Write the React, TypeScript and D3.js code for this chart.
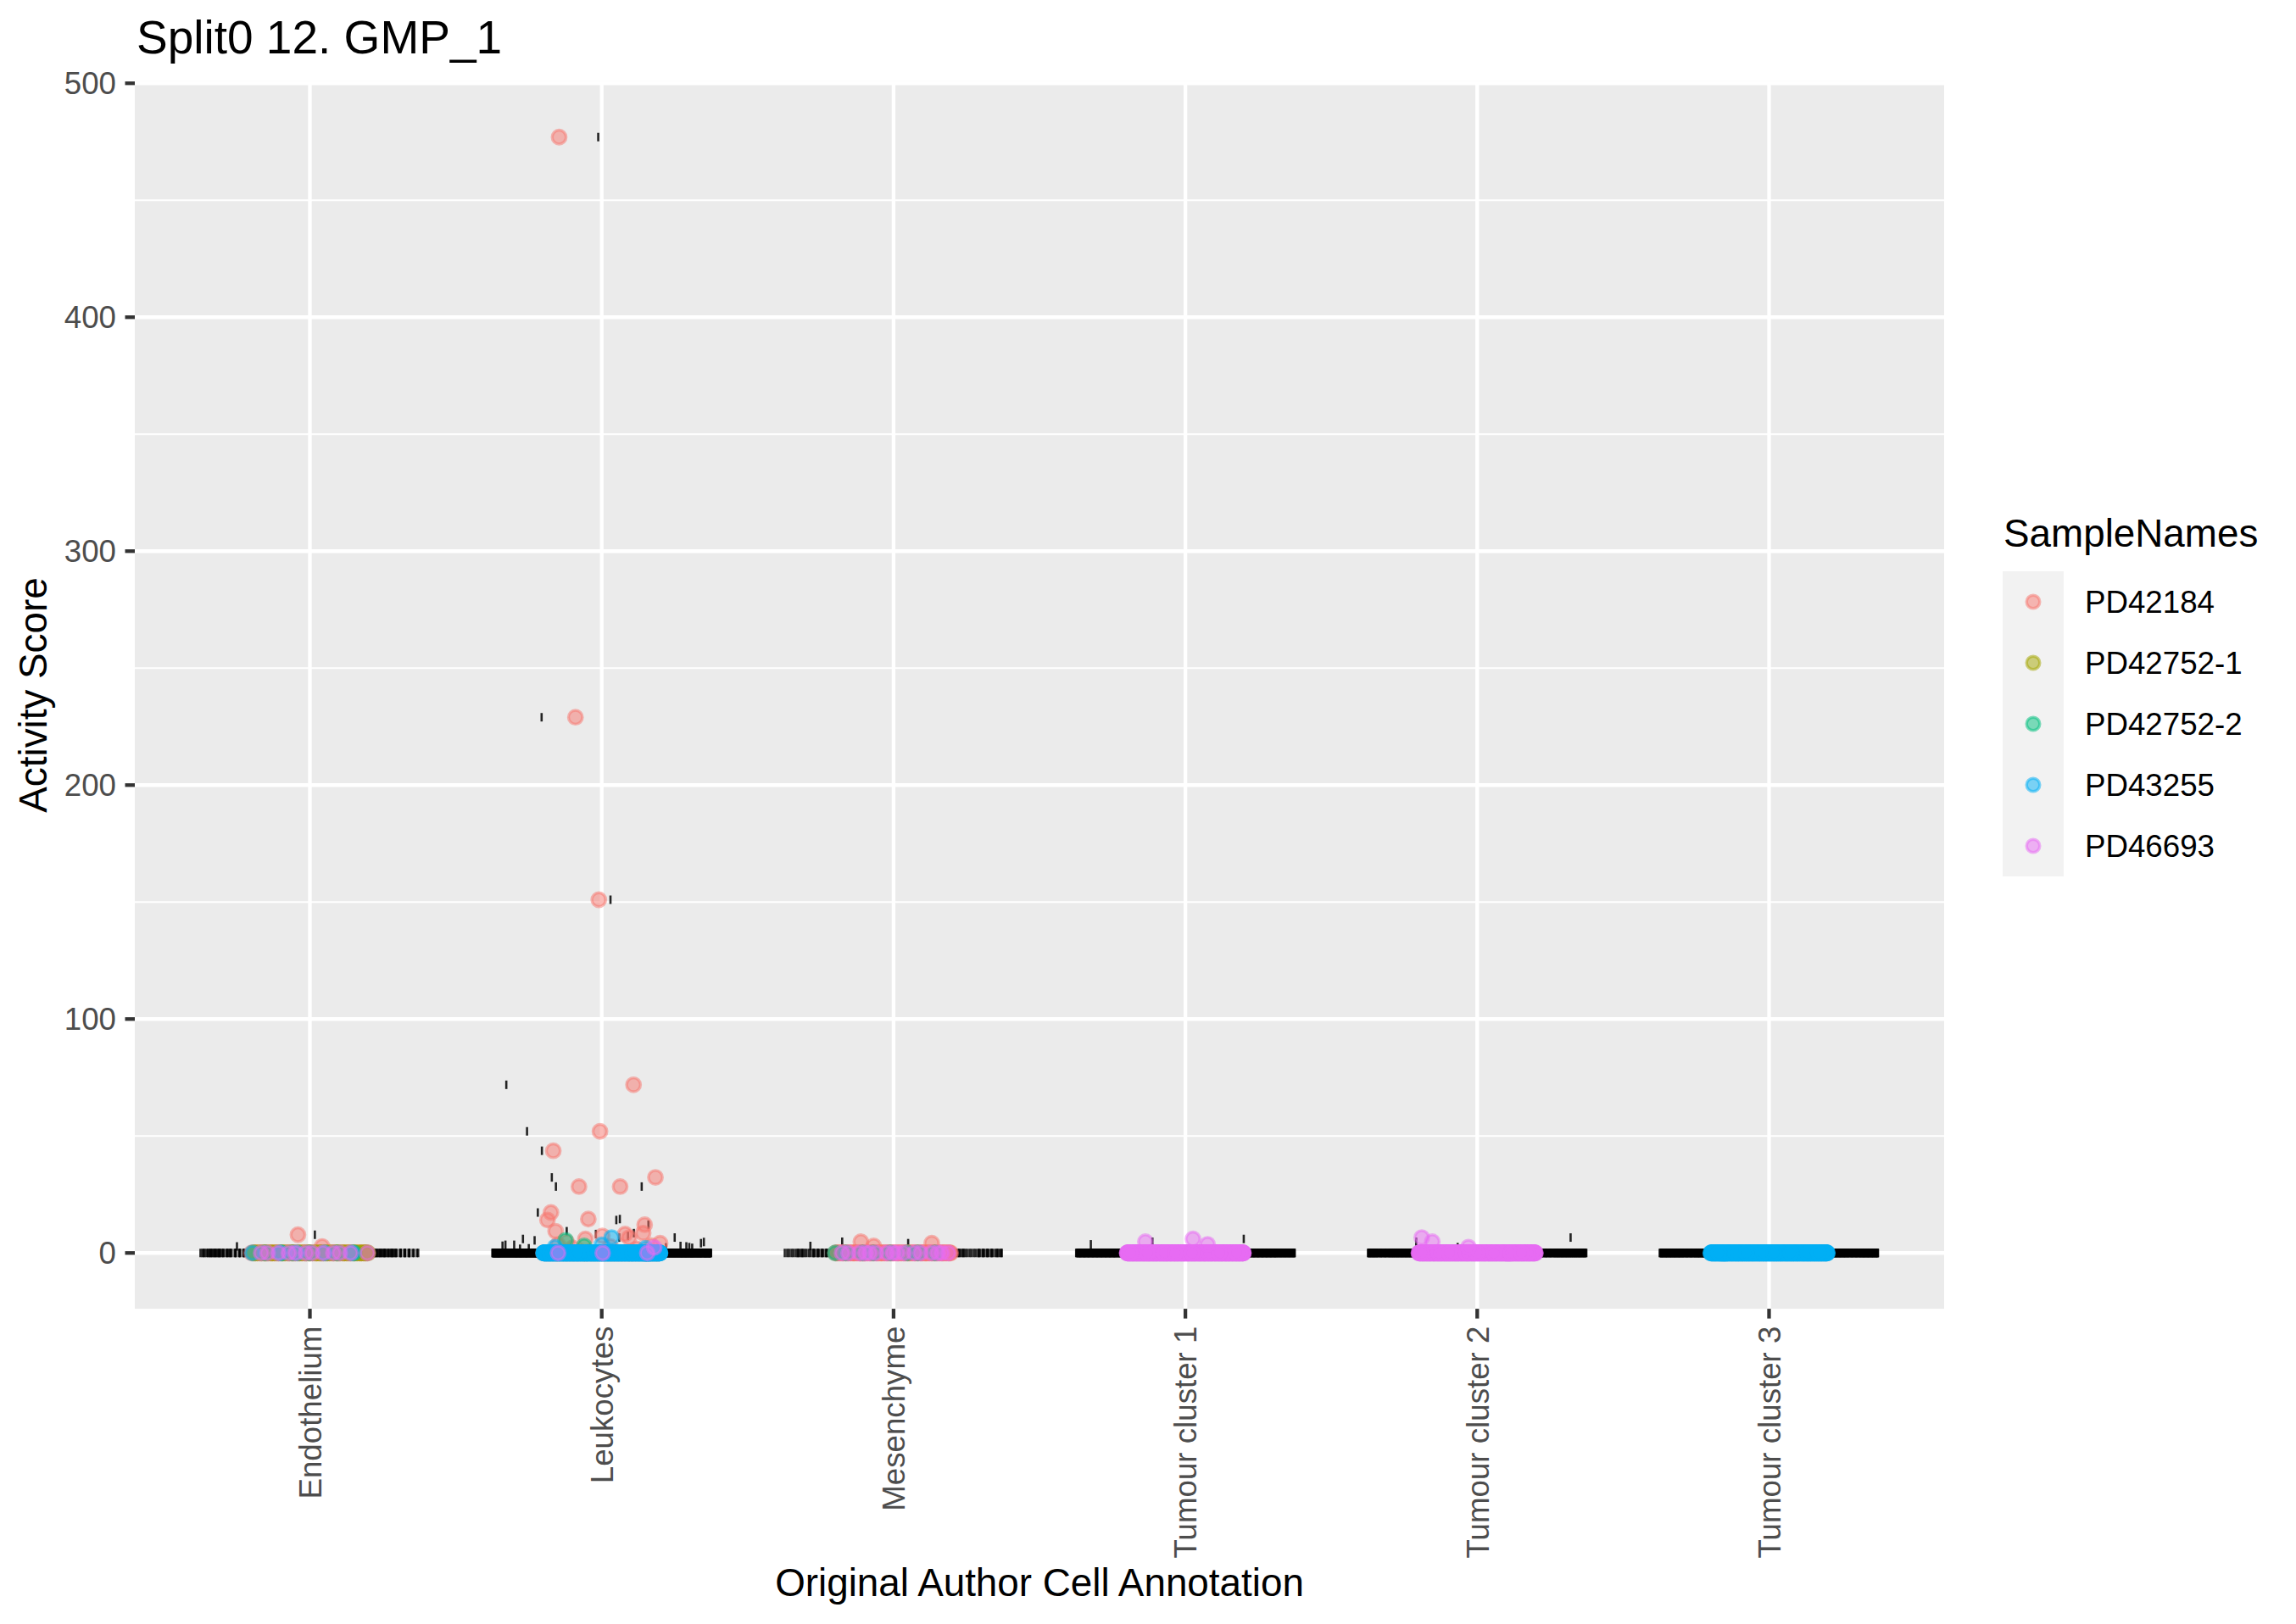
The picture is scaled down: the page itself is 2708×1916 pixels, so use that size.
/**
 * Jittered activity score plot (ggplot-like) drawn with D3.
 */
import React, { useEffect, useRef } from "react";
import * as d3 from "d3";

const categories = [
  "Endothelium",
  "Leukocytes",
  "Mesenchyme",
  "Tumour cluster 1",
  "Tumour cluster 2",
  "Tumour cluster 3",
];

const sampleNames = ["PD42184", "PD42752-1", "PD42752-2", "PD43255", "PD46693"];
const sampleColors = ["#F8766D", "#A3A500", "#00BF7D", "#00B0F6", "#E76BF3"];

const yTickValues = [0, 100, 200, 300, 400, 500];
const yMinorValues = [50, 150, 250, 350, 450];

/**
 * Cells sitting at ~0: rows follow categories, columns follow sampleNames
 */
const zeroCellCounts = [
  [80, 60, 6, 5, 12],
  [120, 5, 20, 700, 3],
  [110, 0, 8, 0, 16],
  [0, 0, 0, 0, 500],
  [0, 0, 0, 0, 450],
  [0, 0, 0, 550, 0],
];

/**
 * Raised cells: [sample index, score, point jitter, tick jitter]
 */
type Raised = [number, number, number, number];

const endotheliumRaised: Raised[] = [
  [0, 7.8, -0.041, 0.017],
  [0, 2.8, 0.042, -0.25],
];

const leukocytesRaised: Raised[] = [
  [0, 477.0, -0.146, -0.012],
  [0, 229.0, -0.09, -0.206],
  [0, 151.0, -0.01, 0.03],
  [0, 71.9, 0.109, -0.327],
  [0, 52.0, -0.006, -0.256],
  [0, 43.7, -0.166, -0.205],
  [0, 32.3, 0.184, -0.171],
  [0, 28.4, -0.078, -0.157],
  [0, 28.4, 0.063, 0.137],
  [0, 17.3, -0.174, -0.219],
  [0, 14.1, -0.186, 0.05],
  [0, 14.5, -0.046, 0.062],
  [0, 12.1, 0.147, 0.16],
  [0, 9.3, -0.158, -0.12],
  [0, 8.5, 0.142, 0.11],
  [0, 8.1, 0.08, -0.02],
  [0, 7.3, 0.002, 0.09],
  [0, 6.6, 0.094, 0.25],
  [0, 6.0, -0.056, -0.27],
  [0, 4.2, 0.2, 0.34],
  [0, 4.7, -0.12, 0.35],
  [0, 3.5, -0.15, -0.3],
  [0, 2.8, 0.03, 0.29],
  [0, 3.1, 0.17, -0.34],
  [0, 2.2, -0.1, 0.31],
  [0, 1.8, 0.12, -0.28],
  [2, 5.4, -0.124, -0.23],
  [2, 3.0, -0.06, 0.27],
  [3, 6.6, 0.034, 0.06],
  [3, 3.5, 0.0, -0.33],
  [3, 2.5, -0.16, 0.3],
  [3, 2.0, 0.15, -0.25],
  [4, 2.4, 0.18, 0.22],
];

const mesenchymeRaised: Raised[] = [
  [0, 4.8, -0.112, -0.176],
  [0, 4.2, 0.131, 0.05],
  [0, 3.0, -0.068, -0.285],
];

const tumour1Raised: Raised[] = [
  [4, 4.8, -0.137, -0.113],
  [4, 6.0, 0.026, 0.2],
  [4, 3.7, 0.076, -0.324],
];

const tumour2Raised: Raised[] = [
  [4, 6.6, -0.19, 0.32],
  [4, 4.8, -0.154, -0.209],
  [4, 2.5, -0.03, -0.067],
];

const tumour3Raised: Raised[] = [];

const raisedByCategory = [
  endotheliumRaised,
  leukocytesRaised,
  mesenchymeRaised,
  tumour1Raised,
  tumour2Raised,
  tumour3Raised,
];

interface Cell {
  category: string;
  sample: number;
  score: number;
  pointJitter: number;
  tickJitter: number;
}

const WIDTH = 2708;
const HEIGHT = 1916;
const FONT = "'Liberation Sans', Arial, Helvetica, sans-serif";

export default function App(): React.ReactElement {
  const ref = useRef<SVGSVGElement | null>(null);

  useEffect(() => {
    /**
     * Build the cell table; zero cells get a deterministic low-discrepancy jitter
     */
    const cells: Cell[] = [];
    categories.forEach((category, ci) => {
      sampleNames.forEach((_, si) => {
        const n = zeroCellCounts[ci][si];
        for (let i = 0; i < n; i++) {
          const a = (0.13 * si + 0.37 * ci + i * 0.6180339887) % 1;
          const b = (0.29 * si + 0.11 * ci + i * 0.7548776662) % 1;
          cells.push({
            category,
            sample: si,
            score: 0,
            pointJitter: (a - 0.5) * 0.4,
            tickJitter: (b - 0.5) * 0.75,
          });
        }
        raisedByCategory[ci]
          .filter((r) => r[0] === si)
          .forEach((r) => {
            cells.push({
              category,
              sample: si,
              score: r[1],
              pointJitter: r[2],
              tickJitter: r[3],
            });
          });
      });
    });

    const panel = { left: 159, right: 2293, top: 0, bottom: 0 };

    /**
     * y scale with ggplot's 5% expansion
     */
    const [yMin, yMax] = d3.extent(cells, (d) => d.score) as [number, number];
    const pad = (yMax - yMin) * 0.05;
    const y = d3
      .scaleLinear()
      .domain([yMin - pad, yMax + pad])
      .range([1544.1, 95.9]);
    panel.top = y(yMax + pad);
    panel.bottom = y(yMin - pad);

    const x = d3
      .scalePoint<string>()
      .domain(categories)
      .range([panel.left, panel.right])
      .padding(0.6);
    const step = x.step();

    const color = d3.scaleOrdinal<number, string>().domain(d3.range(5)).range(sampleColors);

    const svg = d3.select(ref.current);
    svg.selectAll("*").remove();

    svg.append("rect").attr("width", WIDTH).attr("height", HEIGHT).attr("fill", "#FFFFFF");

    /**
     * Panel background and grid
     */
    svg
      .append("rect")
      .attr("x", panel.left)
      .attr("y", panel.top)
      .attr("width", panel.right - panel.left)
      .attr("height", panel.bottom - panel.top)
      .attr("fill", "#EBEBEB");

    const grid = svg.append("g");
    grid
      .selectAll("line.minor")
      .data(yMinorValues)
      .join("line")
      .attr("x1", panel.left)
      .attr("x2", panel.right)
      .attr("y1", (d) => y(d))
      .attr("y2", (d) => y(d))
      .attr("stroke", "#FFFFFF")
      .attr("stroke-width", 2.2);
    grid
      .selectAll("line.majorY")
      .data(yTickValues)
      .join("line")
      .attr("x1", panel.left)
      .attr("x2", panel.right)
      .attr("y1", (d) => y(d))
      .attr("y2", (d) => y(d))
      .attr("stroke", "#FFFFFF")
      .attr("stroke-width", 4.3);
    grid
      .selectAll("line.majorX")
      .data(categories)
      .join("line")
      .attr("x1", (d) => x(d)!)
      .attr("x2", (d) => x(d)!)
      .attr("y1", panel.top)
      .attr("y2", panel.bottom)
      .attr("stroke", "#FFFFFF")
      .attr("stroke-width", 4.3);

    /**
     * Black tick layer (drawn underneath the coloured points)
     */
    svg
      .append("g")
      .selectAll("line")
      .data(cells)
      .join("line")
      .attr("x1", (d) => x(d.category)! + d.tickJitter * step)
      .attr("x2", (d) => x(d.category)! + d.tickJitter * step)
      .attr("y1", (d) => y(d.score) - 5)
      .attr("y2", (d) => y(d.score) + 5)
      .attr("stroke", "#000000")
      .attr("stroke-opacity", 0.85)
      .attr("stroke-width", 2.6);

    /**
     * Jittered points
     */
    svg
      .append("g")
      .selectAll("circle")
      .data(cells)
      .join("circle")
      .attr("cx", (d) => x(d.category)! + d.pointJitter * step)
      .attr("cy", (d) => y(d.score))
      .attr("r", 8.2)
      .attr("fill", (d) => color(d.sample))
      .attr("fill-opacity", 0.5)
      .attr("stroke", (d) => color(d.sample))
      .attr("stroke-opacity", 0.5)
      .attr("stroke-width", 3.4);

    /**
     * Axes
     */
    const yAxis = svg.append("g");
    yAxis
      .selectAll("line")
      .data(yTickValues)
      .join("line")
      .attr("x1", panel.left - 11.5)
      .attr("x2", panel.left)
      .attr("y1", (d) => y(d))
      .attr("y2", (d) => y(d))
      .attr("stroke", "#333333")
      .attr("stroke-width", 4.3);
    yAxis
      .selectAll("text")
      .data(yTickValues)
      .join("text")
      .attr("x", 137)
      .attr("y", (d) => y(d))
      .attr("dy", "0.36em")
      .attr("text-anchor", "end")
      .attr("font-family", FONT)
      .attr("font-size", 36.7)
      .attr("fill", "#4D4D4D")
      .text((d) => String(d));

    const xAxis = svg.append("g");
    xAxis
      .selectAll("line")
      .data(categories)
      .join("line")
      .attr("x1", (d) => x(d)!)
      .attr("x2", (d) => x(d)!)
      .attr("y1", panel.bottom)
      .attr("y2", panel.bottom + 11.5)
      .attr("stroke", "#333333")
      .attr("stroke-width", 4.3);
    xAxis
      .selectAll("text")
      .data(categories)
      .join("text")
      .attr("transform", (d) => `translate(${x(d)},${panel.bottom + 20.5}) rotate(-90)`)
      .attr("dy", "0.36em")
      .attr("text-anchor", "end")
      .attr("font-family", FONT)
      .attr("font-size", 36.7)
      .attr("fill", "#4D4D4D")
      .text((d) => d);

    /**
     * Titles
     */
    svg
      .append("text")
      .attr("x", 161)
      .attr("y", 63)
      .attr("font-family", FONT)
      .attr("font-size", 55)
      .attr("fill", "#000000")
      .text("Split0 12. GMP_1");

    svg
      .append("text")
      .attr("x", (panel.left + panel.right) / 2)
      .attr("y", 1883)
      .attr("text-anchor", "middle")
      .attr("font-family", FONT)
      .attr("font-size", 45.8)
      .attr("fill", "#000000")
      .text("Original Author Cell Annotation");

    svg
      .append("text")
      .attr("transform", `translate(55,${(panel.top + panel.bottom) / 2}) rotate(-90)`)
      .attr("text-anchor", "middle")
      .attr("font-family", FONT)
      .attr("font-size", 45.8)
      .attr("fill", "#000000")
      .text("Activity Score");

    /**
     * Legend
     */
    const legend = svg.append("g");
    legend
      .append("text")
      .attr("x", 2363)
      .attr("y", 645)
      .attr("font-family", FONT)
      .attr("font-size", 45.8)
      .attr("fill", "#000000")
      .text("SampleNames");

    const keys = legend
      .selectAll("g")
      .data(sampleNames)
      .join("g")
      .attr("transform", (_, i) => `translate(2362,${674 + i * 72})`);
    keys.append("rect").attr("width", 72).attr("height", 72).attr("fill", "#F2F2F2");
    keys
      .append("circle")
      .attr("cx", 36)
      .attr("cy", 36)
      .attr("r", 7.8)
      .attr("fill", (_, i) => color(i))
      .attr("fill-opacity", 0.5)
      .attr("stroke", (_, i) => color(i))
      .attr("stroke-opacity", 0.5)
      .attr("stroke-width", 3.4);
    keys
      .append("text")
      .attr("x", 97)
      .attr("y", 36)
      .attr("dy", "0.36em")
      .attr("font-family", FONT)
      .attr("font-size", 36.7)
      .attr("fill", "#000000")
      .text((d) => d);
  }, []);

  return (
    <svg
      ref={ref}
      width={WIDTH}
      height={HEIGHT}
      style={{ position: "absolute", left: 0, top: 0, display: "block" }}
    />
  );
}
